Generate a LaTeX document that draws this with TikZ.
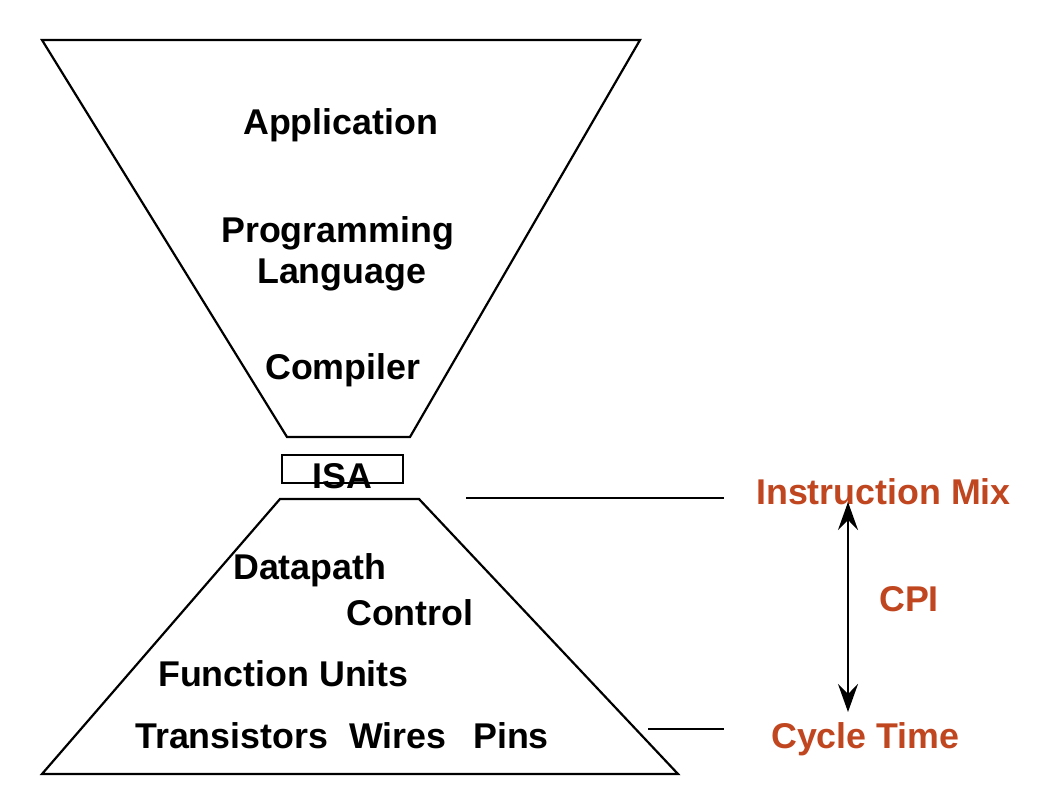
\documentclass[tikz,border=0pt]{standalone}
\usepackage{fontspec}
\setmainfont{Liberation Sans}
\usetikzlibrary{arrows.meta}
\definecolor{accent}{RGB}{192,70,32}
\begin{document}
\begin{tikzpicture}[x=1pt,y=-1pt,
  lbl/.style={anchor=base west,inner sep=0pt,font=\fontsize{35.8}{41}\selectfont\bfseries},
  rlbl/.style={lbl,text=accent},
  shapeline/.style={draw=black,line width=2.2pt,line join=miter},
  thin/.style={draw=black,line width=1.8pt}]
\useasboundingbox (0,0) rectangle (1041,791);
% top funnel
\draw[shapeline] (42,40) -- (640,40) -- (410,437) -- (287,437) -- cycle;
% bottom pyramid
\draw[shapeline] (280,499) -- (419,499) -- (678,774) -- (42,774) -- cycle;
% ISA box
\node[shapeline,minimum width=121pt,minimum height=28pt,inner sep=0pt,anchor=north west] (isabox) at (281,454) {};
\node[lbl] (isa) at (312,488) {ISA};
% labels
\node[lbl] (app) at (243,135) {Application};
\node[lbl] (prog) at (221,243) {Programming};
\node[lbl] (lang) at (257,284) {Language};
\node[lbl] (comp) at (265,379) {Compiler};
\node[lbl] (dp) at (233,579) {Datapath};
\node[lbl] (ctl) at (346,625) {Control};
\node[lbl] (fu) at (158,686) {Function Units};
\node[lbl] (tr) at (135,748) {Transistors};
\node[lbl] (wi) at (349,748) {Wires};
\node[lbl] (pi) at (473,748) {Pins};
% right labels
\node[rlbl] (im) at (756,504) {Instruction Mix};
\node[rlbl] (cpi) at (879,611) {CPI};
\node[rlbl] (ct) at (771,748) {Cycle Time};
% connectors
\coordinate (l1a) at (466,498);
\coordinate (l1b) at (724,498);
\coordinate (l2a) at (648,729);
\coordinate (l2b) at (724,729);
\draw[thin] (l1a) -- (l1b);
\draw[thin] (l2a) -- (l2b);
\coordinate (atop) at (848,502);
\coordinate (abot) at (848,712);
\draw[thin,{Stealth[length=28pt,width=20pt,inset=10pt]}-{Stealth[length=28pt,width=20pt,inset=10pt]}] (atop) -- (abot);
\end{tikzpicture}
\end{document}
